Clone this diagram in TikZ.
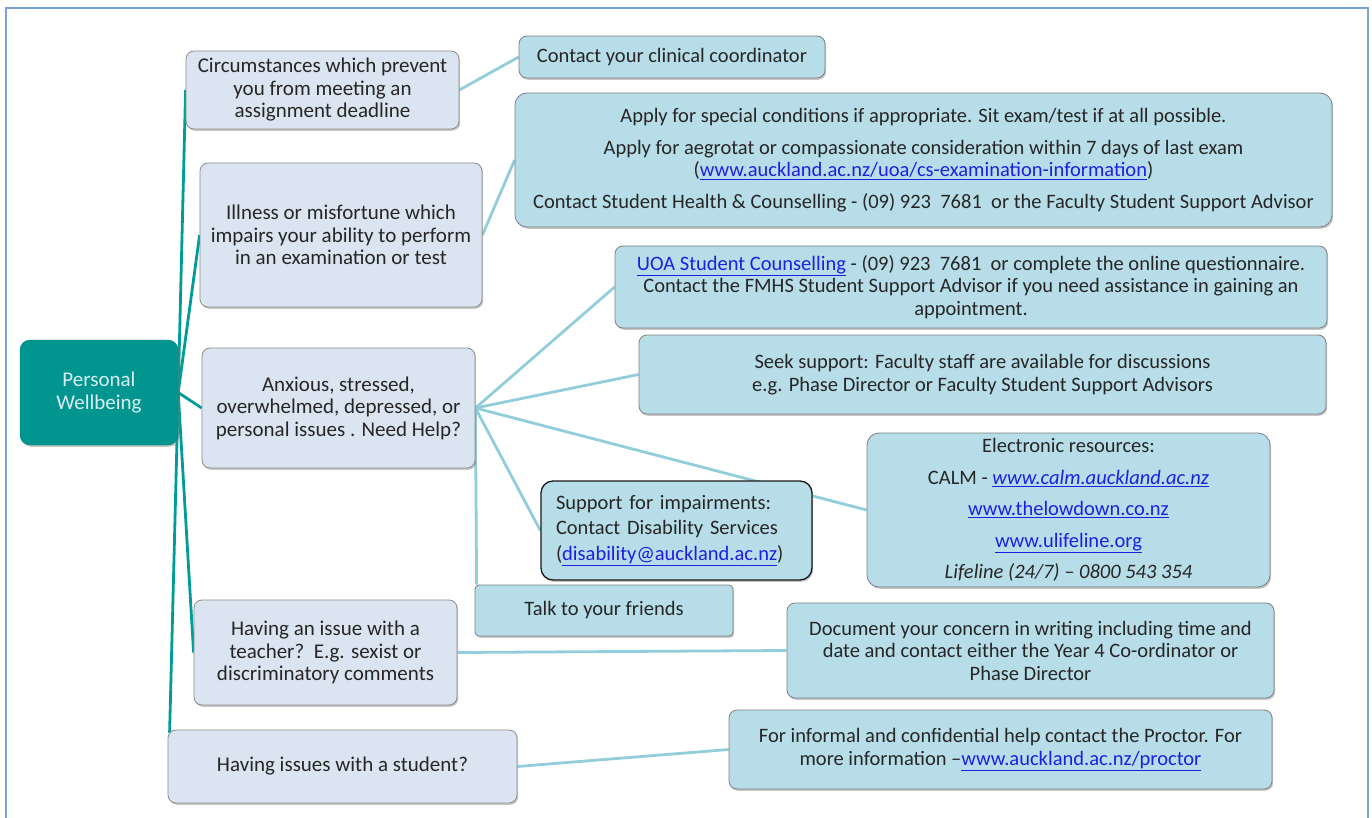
\documentclass[tikz,border=0pt]{standalone}
\usepackage{fontspec}
\setmainfont{Carlito}
\usetikzlibrary{shadows,backgrounds}
\definecolor{catfill}{HTML}{DBE5F1}
\definecolor{ansfill}{HTML}{B7DDE8}
\definecolor{rootfill}{HTML}{00968F}
\definecolor{roottext}{HTML}{DAEEF3}
\definecolor{tealline}{HTML}{009C97}
\definecolor{blueline}{HTML}{92CDDC}
\definecolor{framec}{HTML}{7BA0D6}
\definecolor{linkc}{HTML}{1F1FE0}
\definecolor{txt}{HTML}{262626}
\newcommand{\lnk}[1]{{\color{linkc}\underline{#1}}}
\begin{document}
\begin{tikzpicture}[x=1pt,y=-1pt,
 base/.style={rounded corners=8pt, align=center, text=txt, inner sep=0pt,
   drop shadow={shadow xshift=1.2pt,shadow yshift=-1.8pt,opacity=.45}},
 cat/.style={base, font=\fontsize{21}{22.5}\selectfont, fill=catfill, draw=black!45, line width=0.8pt},
 ans/.style={base, font=\fontsize{20.5}{22.5}\selectfont, fill=ansfill, draw=black!50, line width=0.8pt},
 rootbox/.style={base, font=\fontsize{21}{23}\selectfont, fill=rootfill, draw=rootfill!85!black, text=roottext, rounded corners=10pt},
 tline/.style={draw=tealline, line width=2.8pt},
 bline/.style={draw=blueline, line width=2.8pt}]
\useasboundingbox (0,0) rectangle (1372,818);
\draw[framec, line width=2pt] (6,818) -- (6,8) -- (1368,8) -- (1368,818);

% root
\node[rootbox, minimum width=158pt, minimum height=105pt] (root) at (99,392.5) {Personal\\Wellbeing};

% categories
\node[cat, minimum width=273pt, minimum height=78pt] (c1) at (322.5,90)
  {Circumstances which prevent\\you from meeting an\\assignment deadline};
\node[cat, minimum width=282pt, minimum height=144pt] (c2) at (341,235)
  {Illness or misfortune which\\impairs your ability to perform\\in an examination or test};
\node[cat, minimum width=273pt, minimum height=120pt] (c3) at (338.5,408)
  {Anxious, stressed,\\overwhelmed, depressed, or\\personal issues . Need Help?};
\node[cat, minimum width=263pt, minimum height=105pt] (c4) at (325.5,652.5)
  {Having an issue with a\\teacher?\ \ E.g. sexist or\\discriminatory comments};
\node[cat, minimum width=349pt, minimum height=73pt] (c5) at (342.5,766.5)
  {Having issues with a student?};

% answers
\node[ans, minimum width=306pt, minimum height=42pt] (a1) at (672,57)
  {Contact your clinical coordinator};
\node[ans, minimum width=817pt, minimum height=134pt, rounded corners=12pt] (a2) at (923.5,160)
  {Apply for special conditions if appropriate. Sit exam/test if at all possible.\\[9pt]
   Apply for aegrotat or compassionate consideration within 7 days of last exam\\
   (\lnk{www.auckland.ac.nz/uoa/cs-examination-information})\\[9pt]
   Contact Student Health \& Counselling - (09) 923\ \ 7681\ \ or the Faculty Student Support Advisor};
\node[ans, minimum width=712pt, minimum height=82pt] (a3) at (971,287)
  {\lnk{UOA Student Counselling} - (09) 923\ \ 7681\ \ or complete the online questionnaire.\\
   Contact the FMHS Student Support Advisor if you need assistance in gaining an\\
   appointment.};
\node[ans, minimum width=687pt, minimum height=79pt] (a4) at (982.5,374.5)
  {Seek support: Faculty staff are available for discussions\\
   e.g. Phase Director or Faculty Student Support Advisors};
\node[ans, minimum width=403pt, minimum height=154pt, rounded corners=12pt,
      font=\fontsize{20.5}{31.5}\selectfont] (a5) at (1068.5,510)
  {Electronic resources:\\
   CALM - \lnk{\itshape www.calm.auckland.ac.nz}\\
   \lnk{www.thelowdown.co.nz}\\
   \lnk{www.ulifeline.org}\\
   {\itshape Lifeline (24/7) -- 0800 543 354}};
\node[ans, draw=black!90, line width=1.3pt, rounded corners=12pt, align=left,
      minimum width=271pt, minimum height=99pt, text width=241pt,
      font=\fontsize{20.5}{25.5}\selectfont] (a6) at (676.5,530.5)
  {Support for impairments:\\
   Contact Disability Services\\
   (\lnk{disability@auckland.ac.nz})};
\node[ans, minimum width=258pt, minimum height=51pt, rounded corners=4pt] (a7) at (604,610.5)
  {Talk to your friends};
\node[ans, minimum width=487pt, minimum height=95pt] (a8) at (1030.5,650.5)
  {Document your concern in writing including time and\\
   date and contact either the Year 4 Co-ordinator or\\
   Phase Director};
\node[ans, minimum width=543pt, minimum height=79pt] (a9) at (1000.5,749.5)
  {For informal and confidential help contact the Proctor. For\\
   more information --\lnk{www.auckland.ac.nz/proctor}};

\begin{scope}[on background layer]
  \draw[tline] (root.east) -- (c1.west);
  \draw[tline] (root.east) -- (c2.west);
  \draw[tline] (root.east) -- (c3.west);
  \draw[tline] (root.east) -- (c4.west);
  \draw[tline] (root.east) -- ([xshift=2pt,yshift=-3pt]c5.north west);
  \draw[bline] (c1.east) -- (a1.west);
  \draw[bline] (c2.east) -- (a2.west);
  \draw[bline] (c3.east) -- (a3.west);
  \draw[bline] (c3.east) -- (a4.west);
  \draw[bline] (c3.east) -- (a5.west);
  \draw[bline] (c3.east) -- (a6.west);
  \draw[bline] (c3.east) -- ([xshift=2pt]a7.north west);
  \draw[bline] (c4.east) -- (a8.west);
  \draw[bline] (c5.east) -- (a9.west);
\end{scope}
\end{tikzpicture}
\end{document}
